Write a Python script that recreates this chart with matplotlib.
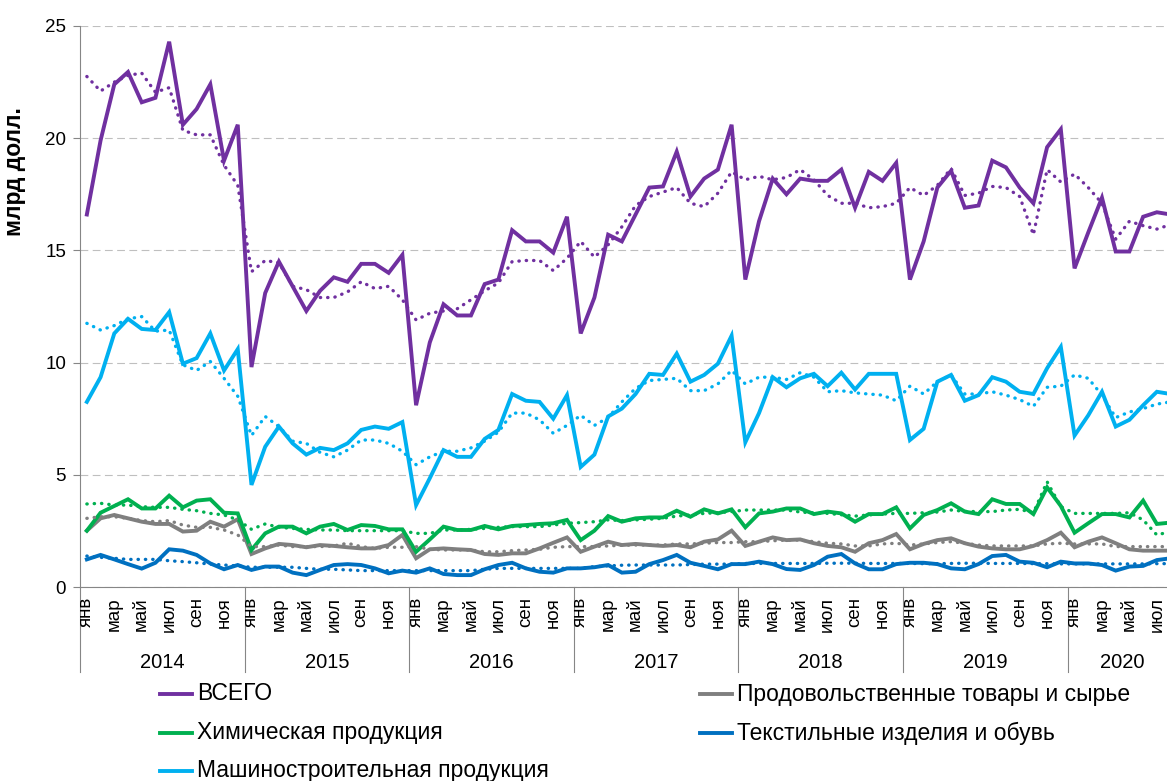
import matplotlib
matplotlib.use('Agg')
import matplotlib.pyplot as plt
from matplotlib.lines import Line2D
import numpy as np

plt.rcParams['font.family'] = ['Liberation Sans', 'DejaVu Sans']

# monthly values, Jan 2014 .. Aug 2020 (the chart is cut just after Jul 2020)
years = ['2014', '2015', '2016', '2017', '2018', '2019', '2020']
months = ['янв', 'фев', 'мар', 'апр', 'май', 'июн', 'июл', 'авг', 'сен', 'окт', 'ноя', 'дек']

total = [16.6, 19.9, 22.4, 22.95, 21.6, 21.8, 24.3, 20.6, 21.3, 22.4, 19.0, 20.6,
         9.8, 13.1, 14.5, 13.4, 12.3, 13.2, 13.8, 13.6, 14.4, 14.4, 14.0, 14.8,
         8.1, 10.9, 12.6, 12.1, 12.1, 13.5, 13.7, 15.9, 15.4, 15.4, 14.9, 16.5,
         11.3, 12.9, 15.7, 15.4, 16.6, 17.8, 17.85, 19.4, 17.4, 18.2, 18.6, 20.6,
         13.7, 16.3, 18.2, 17.5, 18.2, 18.1, 18.1, 18.6, 16.9, 18.5, 18.1, 18.9,
         13.7, 15.4, 17.8, 18.55, 16.9, 17.0, 19.0, 18.7, 17.8, 17.1, 19.6, 20.4,
         14.2, 15.8, 17.35, 14.95, 14.95, 16.5, 16.7, 16.6]
total_sa = [22.75, 22.1, 22.5, 22.8, 22.9, 22.05, 22.25, 20.35, 20.15, 20.15, 18.8, 17.9,
            14.05, 14.55, 14.45, 13.4, 13.25, 12.9, 12.9, 13.15, 13.6, 13.3, 13.4, 12.8,
            11.9, 12.2, 12.3, 12.4, 12.8, 13.2, 13.55, 14.5, 14.55, 14.55, 14.1, 14.65,
            15.4, 14.7, 15.25, 16.05, 17.0, 17.4, 17.6, 17.8, 17.1, 16.95, 17.55, 18.5,
            18.15, 18.3, 18.15, 18.25, 18.6, 18.15, 17.45, 17.1, 17.1, 16.9, 16.95, 17.1,
            17.8, 17.45, 17.9, 18.65, 17.45, 17.55, 17.85, 17.8, 17.4, 15.7, 18.6, 18.05,
            18.4, 17.8, 17.1, 15.5, 16.3, 16.1, 15.95, 16.15]

food = [2.51, 3.06, 3.21, 3.06, 2.91, 2.81, 2.81, 2.47, 2.51, 2.91, 2.69, 3.02,
        1.47, 1.72, 1.92, 1.87, 1.77, 1.87, 1.83, 1.77, 1.72, 1.72, 1.87, 2.32,
        1.28, 1.68, 1.72, 1.68, 1.65, 1.47, 1.43, 1.5, 1.5, 1.72, 1.97, 2.21,
        1.57, 1.8, 2.02, 1.87, 1.92, 1.87, 1.83, 1.87, 1.77, 2.02, 2.12, 2.51,
        1.83, 2.02, 2.21, 2.09, 2.12, 1.95, 1.83, 1.77, 1.57, 1.95, 2.09, 2.36,
        1.68, 1.92, 2.09, 2.17, 1.95, 1.8, 1.72, 1.68, 1.68, 1.83, 2.09, 2.42,
        1.77, 2.02, 2.21, 1.95, 1.68, 1.62, 1.62, 1.62]
food_sa = [3.06, 3.13, 3.13, 3.06, 2.96, 2.91, 2.96, 2.76, 2.66, 2.66, 2.54, 2.32,
           1.8, 1.8, 1.87, 1.8, 1.8, 1.8, 1.83, 1.95, 1.8, 1.72, 1.77, 1.77,
           1.8, 1.68, 1.65, 1.65, 1.65, 1.57, 1.57, 1.62, 1.65, 1.68, 1.77, 1.8,
           1.8, 1.8, 1.83, 1.86, 1.87, 1.87, 1.87, 1.92, 1.92, 1.95, 1.98, 1.98,
           2.02, 2.02, 2.06, 2.09, 2.09, 2.02, 1.95, 1.92, 1.83, 1.83, 1.92, 1.95,
           1.87, 1.92, 1.98, 2.02, 1.95, 1.87, 1.83, 1.83, 1.83, 1.83, 1.92, 1.95,
           1.92, 1.92, 1.92, 1.8, 1.8, 1.8, 1.8, 1.8]

chem = [2.51, 3.31, 3.61, 3.91, 3.5, 3.5, 4.07, 3.55, 3.85, 3.91, 3.31, 3.28,
        1.65, 2.39, 2.69, 2.69, 2.39, 2.69, 2.81, 2.54, 2.76, 2.72, 2.57, 2.57,
        1.57, 2.12, 2.69, 2.54, 2.54, 2.72, 2.57, 2.72, 2.76, 2.81, 2.84, 2.99,
        2.09, 2.51, 3.16, 2.91, 3.06, 3.1, 3.1, 3.4, 3.13, 3.46, 3.28, 3.46,
        2.66, 3.28, 3.36, 3.5, 3.5, 3.25, 3.36, 3.28, 2.91, 3.25, 3.25, 3.55,
        2.61, 3.21, 3.43, 3.73, 3.36, 3.25, 3.91, 3.7, 3.7, 3.25, 4.44, 3.61,
        2.42, 2.84, 3.25, 3.25, 3.1, 3.85, 2.81, 2.87]
chem_sa = [3.7, 3.73, 3.65, 3.65, 3.58, 3.55, 3.55, 3.46, 3.4, 3.28, 3.21, 2.99,
           2.57, 2.81, 2.66, 2.61, 2.57, 2.54, 2.54, 2.51, 2.51, 2.51, 2.51, 2.51,
           2.39, 2.39, 2.54, 2.54, 2.57, 2.61, 2.66, 2.69, 2.69, 2.69, 2.76, 2.84,
           2.87, 2.91, 2.99, 2.96, 2.99, 3.02, 3.06, 3.16, 3.21, 3.28, 3.31, 3.36,
           3.43, 3.43, 3.43, 3.43, 3.34, 3.3, 3.28, 3.22, 3.16, 3.21, 3.25, 3.28,
           3.28, 3.31, 3.34, 3.43, 3.37, 3.36, 3.36, 3.43, 3.46, 3.31, 4.69, 3.58,
           3.28, 3.28, 3.28, 3.28, 3.31, 2.99, 2.32, 2.47]

textile = [1.23, 1.43, 1.23, 1.02, 0.82, 1.08, 1.68, 1.62, 1.43, 1.05, 0.79, 0.98,
           0.76, 0.91, 0.91, 0.64, 0.53, 0.76, 0.98, 1.02, 0.98, 0.83, 0.61, 0.73,
           0.64, 0.83, 0.58, 0.53, 0.53, 0.79, 0.98, 1.08, 0.83, 0.68, 0.64, 0.83,
           0.83, 0.88, 0.98, 0.64, 0.68, 1.02, 1.2, 1.43, 1.08, 0.94, 0.79, 1.02,
           1.02, 1.13, 1.02, 0.8, 0.76, 0.98, 1.35, 1.47, 1.05, 0.79, 0.79, 1.02,
           1.08, 1.08, 1.02, 0.83, 0.79, 1.02, 1.38, 1.43, 1.13, 1.08, 0.88, 1.13,
           1.05, 1.05, 0.98, 0.73, 0.91, 0.94, 1.2, 1.28]
textile_sa = [1.38, 1.32, 1.28, 1.23, 1.23, 1.23, 1.17, 1.13, 1.08, 1.02, 0.98, 0.94,
              0.88, 0.88, 0.88, 0.88, 0.83, 0.79, 0.79, 0.76, 0.73, 0.73, 0.73, 0.73,
              0.73, 0.73, 0.73, 0.73, 0.73, 0.79, 0.83, 0.83, 0.83, 0.83, 0.83, 0.83,
              0.83, 0.91, 0.94, 0.97, 0.98, 0.98, 0.98, 0.98, 1.0, 1.02, 1.02, 1.02,
              1.05, 1.05, 1.05, 1.05, 1.05, 1.05, 1.06, 1.06, 1.06, 1.05, 1.05, 1.05,
              1.05, 1.04, 1.04, 1.05, 1.06, 1.06, 1.05, 1.05, 1.05, 1.04, 1.04, 1.03,
              1.03, 1.03, 1.03, 1.03, 1.03, 1.03, 1.04, 1.04]

machinery = [8.25, 9.35, 11.3, 11.95, 11.5, 11.45, 12.25, 9.95, 10.2, 11.3, 9.65, 10.6,
             4.55, 6.25, 7.15, 6.4, 5.9, 6.2, 6.1, 6.4, 7.0, 7.15, 7.05, 7.35,
             3.65, 4.85, 6.1, 5.8, 5.8, 6.6, 7.0, 8.6, 8.3, 8.25, 7.5, 8.55,
             5.35, 5.9, 7.6, 7.95, 8.6, 9.5, 9.45, 10.4, 9.15, 9.45, 9.95, 11.2,
             6.45, 7.75, 9.35, 8.9, 9.3, 9.5, 8.95, 9.55, 8.8, 9.5, 9.5, 9.5,
             6.55, 7.05, 9.15, 9.45, 8.3, 8.55, 9.35, 9.15, 8.7, 8.6, 9.75, 10.7,
             6.75, 7.65, 8.7, 7.15, 7.45, 8.1, 8.7, 8.6]
machinery_sa = [11.75, 11.45, 11.65, 11.95, 12.05, 11.4, 11.45, 9.9, 9.65, 10.05, 9.3, 8.5,
                6.75, 7.6, 7.15, 6.5, 6.4, 6.0, 5.8, 6.1, 6.55, 6.55, 6.4, 6.05,
                5.45, 5.8, 6.05, 6.05, 6.2, 6.5, 6.9, 7.75, 7.75, 7.45, 6.85, 7.2,
                7.65, 7.2, 7.55, 8.25, 8.85, 9.2, 9.25, 9.3, 8.75, 8.75, 9.05, 9.65,
                9.05, 9.35, 9.35, 9.25, 9.55, 9.35, 8.7, 8.75, 8.65, 8.6, 8.55, 8.3,
                8.95, 8.6, 9.15, 9.45, 8.6, 8.6, 8.7, 8.55, 8.35, 8.05, 8.9, 8.95,
                9.45, 9.3, 8.55, 7.55, 7.8, 7.95, 8.15, 8.25]

names = ['ВСЕГО', 'Продовольственные товары и сырье', 'Химическая продукция',
         'Текстильные изделия и обувь', 'Машиностроительная продукция']
colors = ['#7030A0', '#7F7F7F', '#00B050', '#0070C0', '#00B0F0']
solid = [total, food, chem, textile, machinery]
dotted = [total_sa, food_sa, chem_sa, textile_sa, machinery_sa]

n = len(total)
x = np.arange(n)

fig = plt.figure(figsize=(11.67, 7.81), dpi=100)
ax = fig.add_axes([80 / 1167, 1 - 587 / 781, 1087 / 1167, 561 / 781])

for vals, c in zip(solid, colors):
    ax.plot(x, vals, color=c, lw=2.8, solid_joinstyle='miter', zorder=3)
for vals, c in zip(dotted, colors):
    ax.plot(x, vals, color=c, lw=2.4, linestyle=(0, (0.1, 2.1)),
            dash_capstyle='round', zorder=4)

ax.set_xlim(-0.5, 78.74)
ax.set_ylim(0, 25)
ax.set_yticks(range(0, 26, 5))
ax.yaxis.grid(True, color='#BFBFBF', lw=0.8, linestyle=(0, (7, 4)))
ax.set_axisbelow(True)
for s in ['top', 'right']:
    ax.spines[s].set_visible(False)
for s in ['left', 'bottom']:
    ax.spines[s].set_color('#868686')
    ax.spines[s].set_linewidth(0.8)
ax.set_xticks([])
ax.tick_params(axis='y', length=5, width=0.8, color='#868686', pad=5, labelsize=13.5)

# two-level category axis: months then years
xt = ax.get_xaxis_transform()
for i in range(0, n, 2):
    if i > 78:
        break
    ax.text(i, -10 / 561, months[i % 12], rotation=90, ha='center', va='top',
            fontsize=13.5, transform=xt)
for k, yr in enumerate(years):
    start = 12 * k
    end = min(12 * k + 11, n - 1)
    ax.text((start + end) / 2, -75 / 561, yr, ha='center', va='center',
            fontsize=14.5, transform=xt)
for k in range(len(years)):
    ax.plot([12 * k - 0.5, 12 * k - 0.5], [0, -85 / 561], color='#868686', lw=0.8,
            transform=xt, clip_on=False)

fig.text(15 / 1167, 1 - 172 / 781, 'млрд долл.', rotation=90, ha='center', va='center',
         fontsize=16.5, fontweight='bold')

# legend, two columns
leg_pos = [(160, 694), (700, 694), (160, 733), (700, 733), (160, 771)]
for (px, py), name, c in zip(leg_pos, names, colors):
    fy = 1 - py / 781
    fig.add_artist(Line2D([px / 1167, (px + 32) / 1167], [fy, fy], color=c, lw=2.8))
    fig.text((px + 37) / 1167, fy, name, ha='left', va='center', fontsize=16.5)

fig.savefig('out.png', dpi=100)
